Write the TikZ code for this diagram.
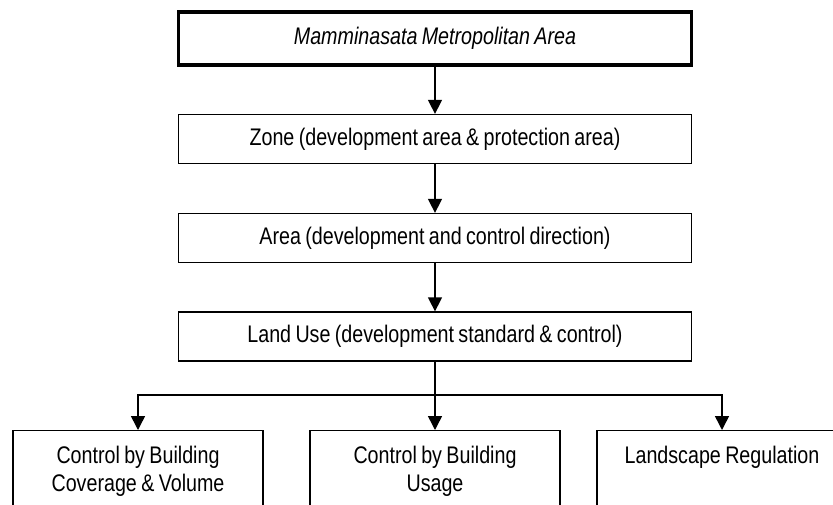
\documentclass[tikz,border=0pt]{standalone}
\usepackage{fontspec}
\setmainfont{Liberation Sans}[FakeStretch=0.82,WordSpace=0.8]
\usetikzlibrary{arrows.meta}

\begin{document}
\begin{tikzpicture}[x=1pt,y=-1pt,>={Triangle[width=14pt,length=14pt]},
	font=\fontsize{24}{28}\selectfont,
	box/.style={draw,line width=1.3pt,minimum width=513pt,minimum height=49pt,inner sep=0pt},
	subbox/.style={draw,line width=1.3pt,anchor=north,minimum width=250pt,
		align=center,inner xsep=3pt,inner ysep=15pt,text depth=70pt},
	link/.style={line width=1.5pt}]
	\clip (0,0) rectangle (833,504);
	%livelli principali
	\node [box,line width=3.3pt,minimum height=53pt] (metro) at (435,38.5) {\itshape Mamminasata Metropolitan Area};
	\node [box] (zone) at (435,139) {Zone (development area \& protection area)};
	\node [box] (area) at (435,238) {Area (development and control direction)};
	\node [box] (landuse) at (435,336.5) {Land Use (development standard \& control)};
	%controlli
	\node [subbox] (coverage) at (138,430) {Control by Building\\Coverage \& Volume};
	\node [subbox] (usage) at (435,430) {Control by Building\\Usage};
	\node [subbox] (landscape) at (722,430) {Landscape Regulation};
	\coordinate (split) at (435,395);
	\draw [->,link] (metro) -- (zone);
	\draw [->,link] (zone) -- (area);
	\draw [->,link] (area) -- (landuse);
	\draw [link] (landuse) -- (split);
	\draw [->,link] (split) -| (coverage);
	\draw [->,link] (split) -- (usage);
	\draw [->,link] (split) -| (landscape);
\end{tikzpicture}
\end{document}
